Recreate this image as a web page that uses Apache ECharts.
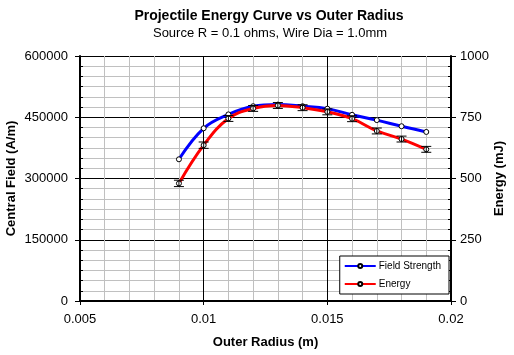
<!DOCTYPE html>
<html>
<head>
<meta charset="utf-8">
<script src="https://cdn.jsdelivr.net/npm/echarts@6/dist/echarts.min.js"></script>
<style>
html,body{margin:0;padding:0;background:#fff;}
#chart{width:514px;height:355px;}
</style>
</head>
<body>
<div id="chart"></div>
<script>
// Data
var radius = [0.009, 0.010, 0.011, 0.012, 0.013, 0.014, 0.015, 0.016, 0.017, 0.018, 0.019];
var fieldStrength = [347000, 423000, 457000, 477000, 481000, 477000, 471000, 456000, 443000, 428000, 414000];
var energy = [480, 636, 745, 786, 798, 789, 772, 744, 694, 661, 619];
var energyErr = [13, 13, 12, 12, 12, 12, 12, 12, 12, 12, 12];
var xTicks = [0.005, 0.01, 0.015, 0.02];
var leftTicks = [0, 150000, 300000, 450000, 600000];
var rightTicks = [0, 250, 500, 750, 1000];

var FONT = 'Liberation Sans, Arial, sans-serif';
var chart = echarts.init(document.getElementById('chart'), null, {renderer: 'canvas'});

var fieldData = radius.map(function (x, i) { return [x, fieldStrength[i]]; });
var energyData = radius.map(function (x, i) { return [x, energy[i]]; });
var errData = radius.map(function (x, i) { return [x, energy[i] - energyErr[i], energy[i] + energyErr[i]]; });

var axisLabelStyle = {color: '#000', fontFamily: FONT, fontSize: 13};
var nameStyle = {color: '#000', fontFamily: FONT, fontSize: 13, fontWeight: 'bold'};
var plainNum = function (v) { return String(v); };

function ghostY(idx, min, max, interval, pos) {
  return {
    type: 'value', min: min, max: max, interval: interval, position: pos,
    axisLine: {show: false}, axisLabel: {show: false},
    axisTick: {show: true, inside: false, length: 5, lineStyle: {color: '#000'}},
    splitLine: {show: false}, minorTick: {show: false}, minorSplitLine: {show: false}
  };
}

chart.setOption({
  backgroundColor: '#fff',
  animation: false,
  title: [{
    text: 'Projectile Energy Curve vs Outer Radius',
    left: 269, top: 9, textAlign: 'center', padding: 0,
    textStyle: {fontFamily: FONT, fontSize: 14, fontWeight: 'bold', color: '#000'}
  }, {
    text: 'Source R = 0.1 ohms, Wire Dia = 1.0mm',
    left: 270, top: 27, textAlign: 'center', padding: 0,
    textStyle: {fontFamily: FONT, fontSize: 13, fontWeight: 'normal', color: '#000'}
  }],
  legend: {
    orient: 'vertical',
    right: 65, bottom: 61,
    width: 102,
    backgroundColor: '#fff',
    borderColor: '#000', borderWidth: 1,
    padding: [5, 8, 5, 4],
    itemGap: 8,
    itemWidth: 31, itemHeight: 5,
    textStyle: {fontFamily: FONT, fontSize: 10, color: '#000', padding: [0, 0, 0, -2]},
    data: ['Field Strength', 'Energy']
  },
  grid: {left: 80, right: 63, top: 56, bottom: 54, containLabel: false, outerBoundsMode: 'none'},
  xAxis: {
    type: 'value', min: 0.005, max: 0.02, interval: 0.005,
    name: 'Outer Radius (m)', nameLocation: 'middle', nameGap: 35, nameMoveOverlap: false,
    nameTextStyle: nameStyle,
    axisLine: {show: true, onZero: false, lineStyle: {color: '#000', width: 2}},
    axisTick: {show: true, length: 4, lineStyle: {color: '#000'}},
    minorTick: {show: false, splitNumber: 5},
    axisLabel: Object.assign({margin: 12, formatter: function (v) { return String(+v.toFixed(3)); }}, axisLabelStyle),
    splitLine: {show: true, lineStyle: {color: '#000', width: 1}},
    minorSplitLine: {show: true, lineStyle: {color: '#c0c0c0', width: 1}}
  },
  yAxis: [{
    type: 'value', min: 0, max: 600000, interval: 150000,
    name: 'Central Field (A/m)', nameLocation: 'middle', nameGap: 62, nameRotate: 90, nameMoveOverlap: false,
    nameTextStyle: nameStyle,
    axisLine: {show: true, lineStyle: {color: '#000', width: 2}},
    axisTick: {show: true, inside: true, length: 4, lineStyle: {color: '#000'}},
    axisLabel: Object.assign({margin: 12, formatter: plainNum}, axisLabelStyle),
    splitLine: {show: true, lineStyle: {color: '#000', width: 1}},
    minorTick: {show: true, splitNumber: 6, length: 3, lineStyle: {color: '#000'}},
    minorSplitLine: {show: true, lineStyle: {color: '#c0c0c0', width: 1}}
  }, {
    type: 'value', min: 0, max: 1000, interval: 250, position: 'right',
    name: 'Energy (mJ)', nameLocation: 'middle', nameGap: 42, nameRotate: 90, nameMoveOverlap: false,
    nameTextStyle: nameStyle,
    axisLine: {show: true, lineStyle: {color: '#000', width: 2}},
    axisTick: {show: true, inside: true, length: 4, lineStyle: {color: '#000'}},
    axisLabel: Object.assign({margin: 9, formatter: plainNum}, axisLabelStyle),
    splitLine: {show: false},
    minorTick: {show: true, splitNumber: 6, length: 3, lineStyle: {color: '#000'}},
    minorSplitLine: {show: false}
  },
  ghostY(2, 0, 600000, 150000, 'left'),
  ghostY(3, 0, 1000, 250, 'right')],
  series: [{
    name: 'Field Strength', type: 'line', yAxisIndex: 0,
    data: fieldData, smooth: 0.4,
    symbol: 'circle', symbolSize: 5, showAllSymbol: true,
    lineStyle: {color: '#0000ff', width: 3},
    itemStyle: {color: '#fff', borderColor: '#000', borderWidth: 1},
    z: 3
  }, {
    name: 'Energy', type: 'line', yAxisIndex: 1,
    data: energyData, smooth: 0.4,
    symbol: 'circle', symbolSize: 5, showAllSymbol: true,
    lineStyle: {color: '#ff0000', width: 3},
    itemStyle: {color: '#fff', borderColor: '#000', borderWidth: 1},
    z: 4
  }, {
    name: 'err', type: 'custom', yAxisIndex: 1,
    data: errData, z: 5, silent: true,
    renderItem: function (params, api) {
      var x = api.value(0);
      var lo = api.coord([x, api.value(1)]);
      var hi = api.coord([x, api.value(2)]);
      var cw = 5;
      var st = {stroke: '#000', lineWidth: 1};
      return {
        type: 'group',
        children: [
          {type: 'line', shape: {x1: lo[0], y1: lo[1], x2: hi[0], y2: hi[1]}, style: st},
          {type: 'line', shape: {x1: lo[0] - cw, y1: lo[1], x2: lo[0] + cw, y2: lo[1]}, style: st},
          {type: 'line', shape: {x1: hi[0] - cw, y1: hi[1], x2: hi[0] + cw, y2: hi[1]}, style: st}
        ]
      };
    }
  }]
});
</script>
</body>
</html>
